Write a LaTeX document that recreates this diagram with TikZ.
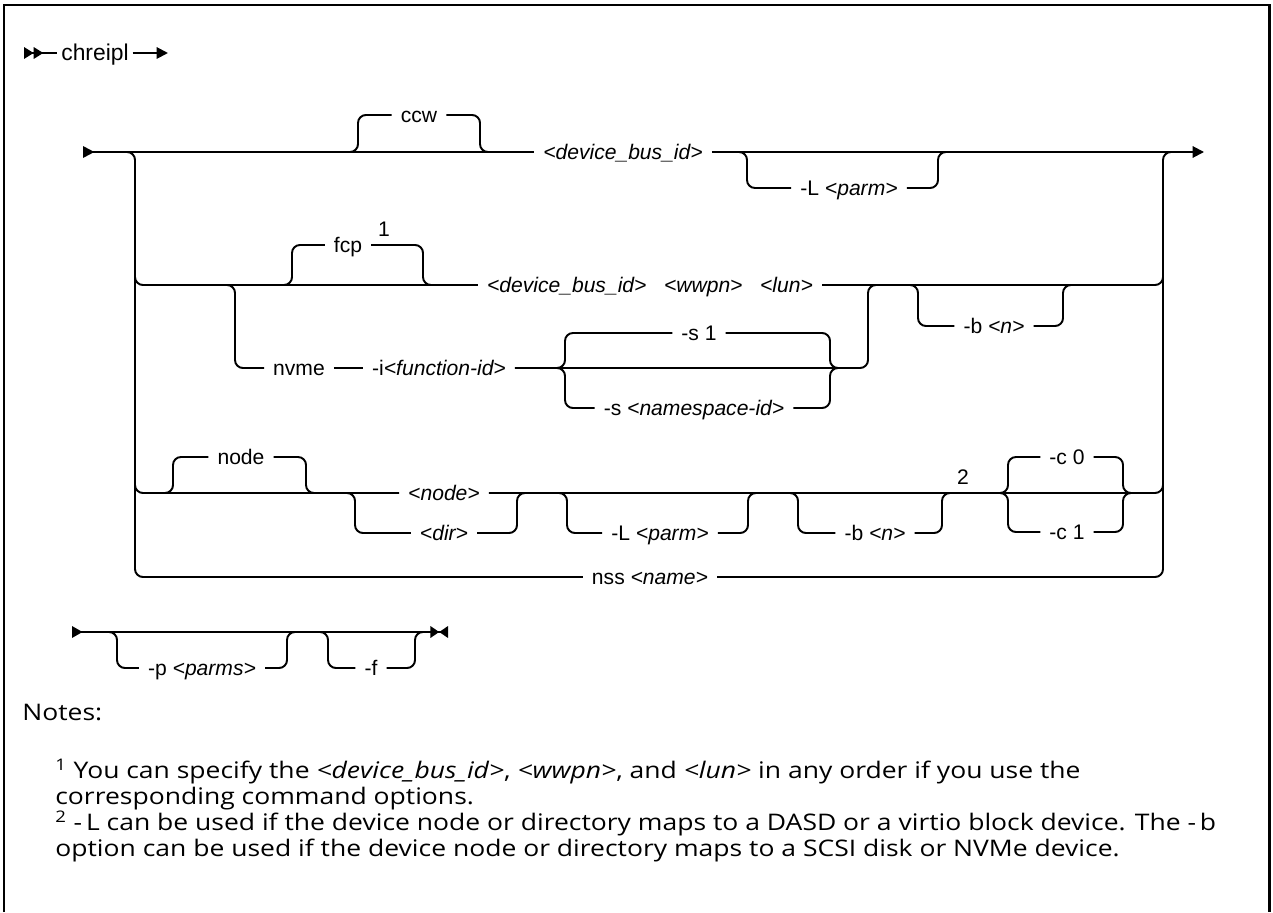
\documentclass[tikz,border=0pt]{standalone}
\usepackage{fontspec}
\setmainfont{Open Sans}
\newfontfamily\railfont{Liberation Sans}
\newfontfamily\notefont[FakeStretch=1.16]{Open Sans}
\usetikzlibrary{arrows.meta, positioning}

\begin{document}
\begin{tikzpicture}[
  x=0.02cm, y=-0.02cm,
  rail/.style={line width=1.1pt, rounded corners=4.5pt},
  lbl/.style={inner xsep=5pt, inner ysep=0pt, text height=9pt, text depth=0pt,
    font=\railfont\fontsize{12}{14}\selectfont},
  fnmark/.style={inner sep=0pt, font=\railfont\fontsize{12}{14}\selectfont},
  note/.style={anchor=base west, inner sep=0pt, font=\notefont\fontsize{13}{15}\selectfont},
  tipin/.style={{Triangle[reversed,length=6.5pt,width=6.5pt]}-},
  tipout/.style={-{Triangle[length=6.5pt,width=6.5pt]}},
]
  \useasboundingbox (0,0) rectangle (1273,912);

  % Frame
  \draw[line width=1.7pt] (4,912) -- (4,5) -- (1269,5) -- (1269,912);

  % Command name
  \coordinate (hstart) at (24,53);
  \coordinate (hend) at (168,53);
  \node[lbl, inner xsep=2pt, font=\railfont\fontsize{13}{15}\selectfont] (cmd) at (95,53) {chreipl};
  \draw[rail, {Triangle[reversed,length=5.5pt,width=6.5pt] Triangle[reversed,length=5.5pt,width=6.5pt]}-] (hstart) -- (cmd.west);
  \draw[rail, tipout] (cmd.east) -- (hend);

  % Junction points
  \coordinate (mstart) at (83,152);
  \coordinate (mend) at (1204,152);
  \coordinate (lbar) at (135,152);
  \coordinate (rbar) at (1163,152);
  \coordinate (ccwL) at (358,152);
  \coordinate (ccwR) at (480,152);
  \coordinate (LL) at (747,152);
  \coordinate (LR) at (938,152);
  \coordinate (nvsplit) at (235,285);
  \coordinate (fcpL) at (292,285);
  \coordinate (fcpR) at (423,285);
  \coordinate (nvjoin) at (868,285);
  \coordinate (bL) at (918,285);
  \coordinate (bR) at (1063,285);
  \coordinate (sL) at (565,368);
  \coordinate (sR) at (830,368);
  \coordinate (nodeL) at (173,493);
  \coordinate (nodeR) at (306,493);
  \coordinate (dirL) at (355,493);
  \coordinate (dirR) at (517,493);
  \coordinate (L2L) at (567,493);
  \coordinate (L2R) at (748,493);
  \coordinate (b2L) at (798,493);
  \coordinate (b2R) at (942,493);
  \coordinate (cL) at (1008,493);
  \coordinate (cR) at (1123,493);

  % Labels
  \node[lbl] (ccw) at (419,115) {ccw};
  \node[lbl] (devA) at (623,152) {\textit{<device\_bus\_id>}};
  \node[lbl] (Lparm) at (849,188) {-L \textit{<parm>}};
  \node[lbl] (fcp) at (348,245) {fcp};
  \node[fnmark] (one) at (384,229) {1};
  \node[lbl] (fcpdev) at (650,285) {\textit{<device\_bus\_id>}\hspace{10pt}\textit{<wwpn>}\hspace{10pt}\textit{<lun>}};
  \node[lbl] (bparm) at (994,326) {-b \textit{<n>}};
  \node[lbl] (nvme) at (299,368) {nvme};
  \node[lbl] (fid) at (439,368) {-i\textit{<function-id>}};
  \node[lbl] (sone) at (699,333) {-s 1};
  \node[lbl] (sns) at (694,408) {-s \textit{<namespace-id>}};
  \node[lbl] (nodekw) at (241,457) {node};
  \node[lbl] (nodearg) at (444,493) {\textit{<node>}};
  \node[lbl] (dirarg) at (444,533) {\textit{<dir>}};
  \node[lbl] (Lparm2) at (660,533) {-L \textit{<parm>}};
  \node[lbl] (bparm2) at (875,533) {-b \textit{<n>}};
  \node[fnmark] (two) at (963,477) {2};
  \node[lbl] (czero) at (1067,457) {-c 0};
  \node[lbl] (cone) at (1067,532) {-c 1};
  \node[lbl] (nss) at (650,577) {nss \textit{<name>}};

  % Main track and bars
  \draw[rail, tipin] (mstart) -- (devA.west);
  \draw[rail, tipout] (devA.east) -- (mend);
  \draw[rail] (lbar) ++(-12,0) -- (lbar) |- (nss.west);
  \draw[rail] (nss.east) -| (rbar) -- ++(12,0);

  % ccw / -L
  \draw[rail] (ccwL) ++(-12,0) -- (ccwL) |- (ccw.west);
  \draw[rail] (ccw.east) -| (ccwR) -- ++(12,0);
  \draw[rail] (LL) ++(-12,0) -- (LL) |- (Lparm.west);
  \draw[rail] (Lparm.east) -| (LR) -- ++(12,0);

  % fcp row
  \draw[rail] (lbar |- fcpdev.west) ++(0,-14) |- (fcpdev.west);
  \draw[rail] (fcpdev.east) -- (rbar |- fcpdev.east) -- ++(0,-14);
  \draw[rail] (fcpL) ++(-12,0) -- (fcpL) |- (fcp.west);
  \draw[rail] (fcp.east) -| (fcpR) -- ++(12,0);
  \draw[rail] (bL) ++(-12,0) -- (bL) |- (bparm.west);
  \draw[rail] (bparm.east) -| (bR) -- ++(12,0);

  % nvme row
  \draw[rail] (nvsplit) ++(-12,0) -- (nvsplit) |- (nvme.west);
  \draw[rail] (nvme.east) -- (fid.west);
  \draw[rail] (fid.east) -| (nvjoin) -- ++(12,0);
  \draw[rail] (sL) ++(-12,0) -- (sL) |- (sone.west);
  \draw[rail] (sone.east) -| (sR) -- ++(12,0);
  \draw[rail] (sL) ++(-12,0) -- (sL) |- (sns.west);
  \draw[rail] (sns.east) -| (sR) -- ++(12,0);

  % node row
  \draw[rail] (lbar |- nodearg.west) ++(0,-14) |- (nodearg.west);
  \draw[rail] (nodearg.east) -- (rbar |- nodearg.east) -- ++(0,-14);
  \draw[rail] (nodeL) ++(-12,0) -- (nodeL) |- (nodekw.west);
  \draw[rail] (nodekw.east) -| (nodeR) -- ++(12,0);
  \draw[rail] (dirL) ++(-12,0) -- (dirL) |- (dirarg.west);
  \draw[rail] (dirarg.east) -| (dirR) -- ++(12,0);
  \draw[rail] (L2L) ++(-12,0) -- (L2L) |- (Lparm2.west);
  \draw[rail] (Lparm2.east) -| (L2R) -- ++(12,0);
  \draw[rail] (b2L) ++(-12,0) -- (b2L) |- (bparm2.west);
  \draw[rail] (bparm2.east) -| (b2R) -- ++(12,0);
  \draw[rail] (cL) ++(-12,0) -- (cL) |- (czero.west);
  \draw[rail] (czero.east) -| (cR) -- ++(12,0);
  \draw[rail] (cL) ++(-12,0) -- (cL) |- (cone.west);
  \draw[rail] (cone.east) -| (cR) -- ++(12,0);

  % Trailing options
  \coordinate (tstart) at (72,632);
  \coordinate (tend) at (448,632);
  \coordinate (pL) at (117,632);
  \coordinate (pR) at (287,632);
  \coordinate (fL) at (328,632);
  \coordinate (fR) at (415,632);
  \node[lbl] (pparm) at (202,668) {-p \textit{<parms>}};
  \node[lbl] (force) at (371,668) {-f};
  \draw[rail, {Triangle[reversed,length=6pt,width=6.5pt]}-{Triangle[length=5pt,width=6.5pt] Triangle[reversed,length=5pt,width=6.5pt]}] (tstart) -- (tend);
  \draw[rail] (pL) ++(-12,0) -- (pL) |- (pparm.west);
  \draw[rail] (pparm.east) -| (pR) -- ++(12,0);
  \draw[rail] (fL) ++(-12,0) -- (fL) |- (force.west);
  \draw[rail] (force.east) -| (fR) -- ++(12,0);

  % Notes
  \node[note] (notes) at (22,720) {Notes:};
  \node[note] (n1a) at (55,778) {\textsuperscript{1} You can specify the \textit{<device\_bus\_id>}, \textit{<wwpn>}, and \textit{<lun>} in any order if you use the};
  \node[note] (n1b) at (55,804) {corresponding command options.};
  \node[note] (n2a) at (55,830) {\textsuperscript{2} -\,L can be used if the device node or directory maps to a DASD or a virtio block device. The -\,b};
  \node[note] (n2b) at (55,856) {option can be used if the device node or directory maps to a SCSI disk or NVMe device.};
\end{tikzpicture}
\end{document}
